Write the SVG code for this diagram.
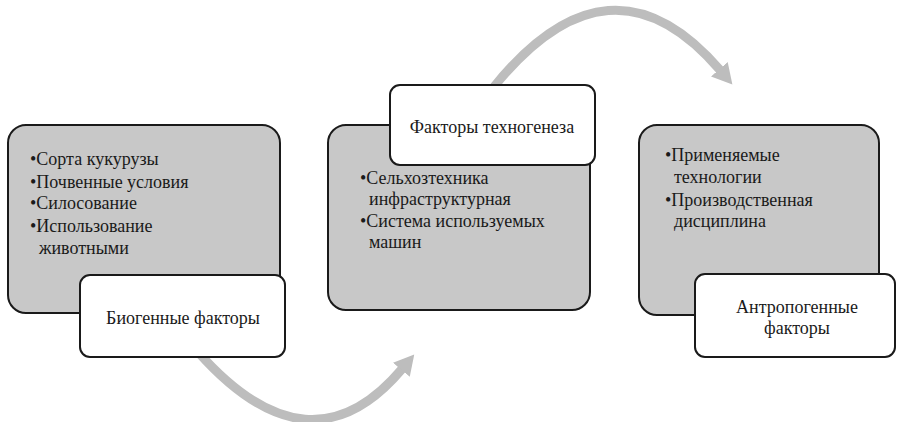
<svg xmlns="http://www.w3.org/2000/svg" width="897" height="422" viewBox="0 0 897 422">
<style>
.gray{fill:#c8c8c8;stroke:#1a1a1a;stroke-width:2}
.white{fill:#ffffff;stroke:#1a1a1a;stroke-width:2}
text{font-family:'Liberation Serif','Noto Serif','DejaVu Serif',Tinos,'Times New Roman','Nimbus Roman','FreeSerif',serif;font-size:18px;fill:#1a1a1a}
.c{text-anchor:middle}
.arc{fill:none;stroke:#bdbdbd;stroke-width:9}
</style>
<defs>
<marker id="ah" markerUnits="userSpaceOnUse" markerWidth="22" markerHeight="24" refX="1" refY="12" orient="auto">
<path d="M0,1 L20,12 L0,23 Z" fill="#bdbdbd"/>
</marker>
</defs>
<g id="connectors">
<path class="arc" d="M198,352 Q310,478 402,369" marker-end="url(#ah)"/>
<path class="arc" d="M493,88 Q610,-58 720,70" marker-end="url(#ah)"/>
</g>
<g id="bio">
<rect class="gray" x="8" y="125" width="272" height="188" rx="18"/>
<text x="30" y="165">•Сорта кукурузы</text>
<text x="30" y="188">•Почвенные условия</text>
<text x="30" y="209">•Силосование</text>
<text x="30" y="232">•Использование</text>
<text x="39" y="254">животными</text>
</g>
<g id="bio-label">
<rect class="white" x="80" y="275" width="205" height="82" rx="10"/>
<text class="c" x="183" y="324">Биогенные факторы</text>
</g>
<g id="tech">
<rect class="gray" x="328" y="125" width="262" height="185" rx="18"/>
<text x="360" y="184">•Сельхозтехника</text>
<text x="369" y="205">инфраструктурная</text>
<text x="360" y="227">•Система используемых</text>
<text x="369" y="248">машин</text>
</g>
<g id="tech-label">
<rect class="white" x="390" y="85" width="205" height="80" rx="10"/>
<text class="c" x="492" y="133">Факторы техногенеза</text>
</g>
<g id="anthro">
<rect class="gray" x="639" y="125" width="240" height="190" rx="18"/>
<text x="665" y="161">•Применяемые</text>
<text x="674" y="183">технологии</text>
<text x="665" y="206">•Производственная</text>
<text x="674" y="227">дисциплина</text>
</g>
<g id="anthro-label">
<rect class="white" x="695" y="274" width="200" height="83" rx="10"/>
<text class="c" x="797" y="313">Антропогенные</text>
<text class="c" x="797" y="334">факторы</text>
</g>
</svg>
